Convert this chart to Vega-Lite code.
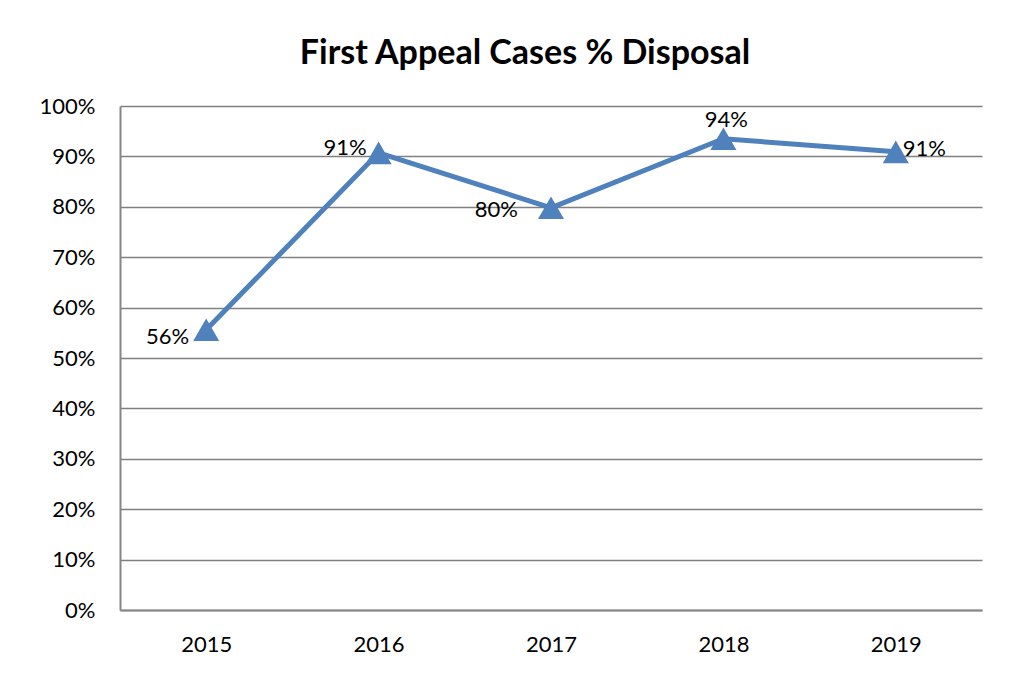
{
  "$schema": "https://vega.github.io/schema/vega-lite/v6.json",
  "autosize": {"type": "none"},
  "width": 862,
  "height": 504,
  "padding": {"left": 120, "top": 106, "right": 51, "bottom": 82},
  "background": "white",
  "title": {
    "text": "First Appeal Cases % Disposal",
    "font": "Lato",
    "fontSize": 34,
    "fontWeight": "bold",
    "color": "black",
    "anchor": "middle",
    "dx": -26,
    "offset": 24
  },
  "data": {
    "values": [
      {"year": "2015", "value": 0.556},
      {"year": "2016", "value": 0.907},
      {"year": "2017", "value": 0.798},
      {"year": "2018", "value": 0.935},
      {"year": "2019", "value": 0.909}
    ]
  },
  "encoding": {
    "x": {
      "field": "year",
      "type": "ordinal",
      "scale": {"paddingInner": 0, "paddingOuter": 0},
      "axis": {
        "title": null,
        "labelAngle": 0,
        "labelFont": "Lato",
        "labelFontSize": 22,
        "labelColor": "black",
        "labelPadding": 24,
        "ticks": false,
        "domain": true,
        "domainColor": "#868686",
        "domainWidth": 2,
        "grid": false
      }
    },
    "y": {
      "field": "value",
      "type": "quantitative",
      "scale": {"domain": [0, 1], "nice": false},
      "axis": {
        "title": null,
        "format": ".0%",
        "values": [0, 0.1, 0.2, 0.3, 0.4, 0.5, 0.6, 0.7, 0.8, 0.9, 1],
        "labelFont": "Lato",
        "labelFontSize": 22,
        "labelColor": "black",
        "labelPadding": 25,
        "ticks": false,
        "domain": true,
        "domainColor": "#868686",
        "domainWidth": 2,
        "grid": true,
        "gridColor": "#808080",
        "gridWidth": 1.7
      }
    }
  },
  "layer": [
    {"mark": {"type": "line", "color": "#4F81BD", "strokeWidth": 5}},
    {"mark": {"type": "point", "shape": "triangle-up", "filled": true, "color": "#4F81BD", "opacity": 1, "size": 680}},
    {
      "transform": [{"filter": "datum.year == '2015'"}],
      "mark": {"type": "text", "font": "Lato", "fontSize": 22, "color": "black", "align": "right", "baseline": "middle", "dx": -17, "dy": 7},
      "encoding": {"text": {"field": "value", "type": "quantitative", "format": ".0%"}}
    },
    {
      "transform": [{"filter": "datum.year == '2016'"}],
      "mark": {"type": "text", "font": "Lato", "fontSize": 22, "color": "black", "align": "right", "baseline": "middle", "dx": -12, "dy": -5},
      "encoding": {"text": {"field": "value", "type": "quantitative", "format": ".0%"}}
    },
    {
      "transform": [{"filter": "datum.year == '2017'"}],
      "mark": {"type": "text", "font": "Lato", "fontSize": 22, "color": "black", "align": "right", "baseline": "middle", "dx": -33, "dy": 2},
      "encoding": {"text": {"field": "value", "type": "quantitative", "format": ".0%"}}
    },
    {
      "transform": [{"filter": "datum.year == '2018'"}],
      "mark": {"type": "text", "font": "Lato", "fontSize": 22, "color": "black", "align": "center", "baseline": "middle", "dx": 3, "dy": -19},
      "encoding": {"text": {"field": "value", "type": "quantitative", "format": ".0%"}}
    },
    {
      "transform": [{"filter": "datum.year == '2019'"}],
      "mark": {"type": "text", "font": "Lato", "fontSize": 22, "color": "black", "align": "left", "baseline": "middle", "dx": 7, "dy": -3},
      "encoding": {"text": {"field": "value", "type": "quantitative", "format": ".0%"}}
    }
  ],
  "config": {
    "view": {"stroke": null}
  }
}
